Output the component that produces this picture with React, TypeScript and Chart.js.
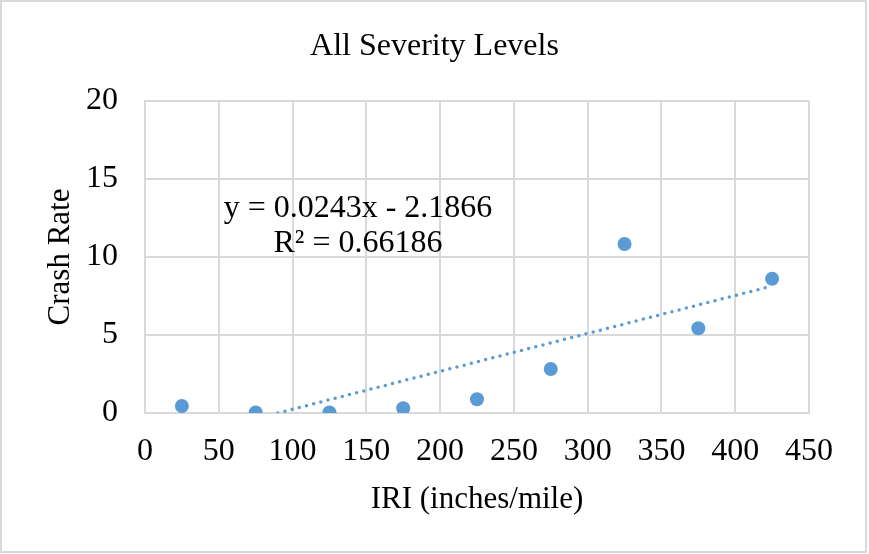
import React, { useEffect, useRef } from "react";
import { Chart, registerables } from "chart.js";

Chart.register(...registerables);

const chartTitle = "All Severity Levels";
const xAxisTitle = "IRI (inches/mile)";
const yAxisTitle = "Crash Rate";
const iriValues = [25, 75, 125, 175, 225, 275, 325, 375, 425];
const crashRates = [0.45, 0.03, 0.04, 0.3, 0.88, 2.82, 10.83, 5.43, 8.61];
const trendX = [89.98, 425];
const trendY = [0, 8.14];
const equationLines = ["y = 0.0243x - 2.1866", "R² = 0.66186"];
const xMin = 0, xMax = 450, xStep = 50;
const yMin = 0, yMax = 20, yStep = 5;

const FONT = "'Liberation Serif', 'Times New Roman', serif";
const BLUE = "#5B9BD5";
const GRID = "#D9D9D9";

const decorPlugin = {
  id: "decor",
  beforeDraw(chart: any) {
    const ctx = chart.ctx;
    ctx.save();
    ctx.fillStyle = "#ffffff";
    ctx.fillRect(0, 0, chart.width, chart.height);
    ctx.strokeStyle = GRID;
    ctx.lineWidth = 2;
    ctx.strokeRect(1, 1, 865, 551);
    ctx.restore();
  },
  afterDraw(chart: any) {
    const ctx = chart.ctx;
    const a = chart.chartArea;
    ctx.save();
    ctx.fillStyle = "#000000";
    ctx.textAlign = "center";
    ctx.textBaseline = "alphabetic";
    ctx.font = `32px ${FONT}`;
    ctx.fillText(chartTitle, chart.width / 2, 55);
    const cx = a.left + 213;
    ctx.fillText(equationLines[0], cx, a.top + 116);
    ctx.fillText(equationLines[1], cx, a.top + 151);
    ctx.restore();
  },
};

export default function App() {
  const canvasRef = useRef<HTMLCanvasElement>(null);

  useEffect(() => {
    const canvas = canvasRef.current;
    if (!canvas) return;
    const chart = new Chart(canvas, {
      type: "scatter",
      data: {
        datasets: [
          {
            type: "scatter",
            label: "Crash rate",
            data: iriValues.map((x, i) => ({ x, y: crashRates[i] })),
            backgroundColor: BLUE,
            borderWidth: 0,
            pointRadius: 7,
            order: 1,
          },
          {
            type: "line",
            label: "Linear trend",
            data: trendX.map((x, i) => ({ x, y: trendY[i] })),
            borderColor: BLUE,
            borderWidth: 3.5,
            borderDash: [0, 7.4],
            borderCapStyle: "round",
            pointRadius: 0,
            fill: false,
            order: 2,
          } as any,
        ],
      },
      options: {
        animation: false,
        responsive: false,
        maintainAspectRatio: false,
        layout: { padding: { left: 0, right: 60, top: 101, bottom: 0 } },
        plugins: {
          legend: { display: false },
          tooltip: { enabled: false },
          title: { display: false },
        },
        scales: {
          x: {
            type: "linear",
            min: xMin,
            max: xMax,
            ticks: { stepSize: xStep, color: "#000", font: { family: FONT, size: 32 }, padding: 19, maxRotation: 0 },
            grid: { color: GRID, lineWidth: 2, drawTicks: false },
            border: { color: GRID, width: 2 },
            title: {
              display: true,
              text: xAxisTitle,
              color: "#000",
              font: { family: FONT, size: 31 },
              padding: { top: 0, bottom: 36 },
            },
            afterFit(scale: any) {
              scale.height = 141;
            },
          },
          y: {
            type: "linear",
            min: yMin,
            max: yMax,
            ticks: { stepSize: yStep, color: "#000", font: { family: FONT, size: 32 }, padding: 27 },
            grid: { color: GRID, lineWidth: 2, drawTicks: false },
            border: { color: GRID, width: 2 },
            title: {
              display: true,
              text: yAxisTitle,
              color: "#000",
              font: { family: FONT, size: 31 },
              padding: { top: 42, bottom: 0 },
            },
            afterFit(scale: any) {
              scale.width = 145;
            },
          },
        },
      },
      plugins: [decorPlugin],
    });
    return () => chart.destroy();
  }, []);

  return (
    <div style={{ position: "fixed", left: 0, top: 0, width: 869, height: 554 }}>
      <canvas ref={canvasRef} width={869} height={554} style={{ display: "block", width: 869, height: 554 }} />
    </div>
  );
}
